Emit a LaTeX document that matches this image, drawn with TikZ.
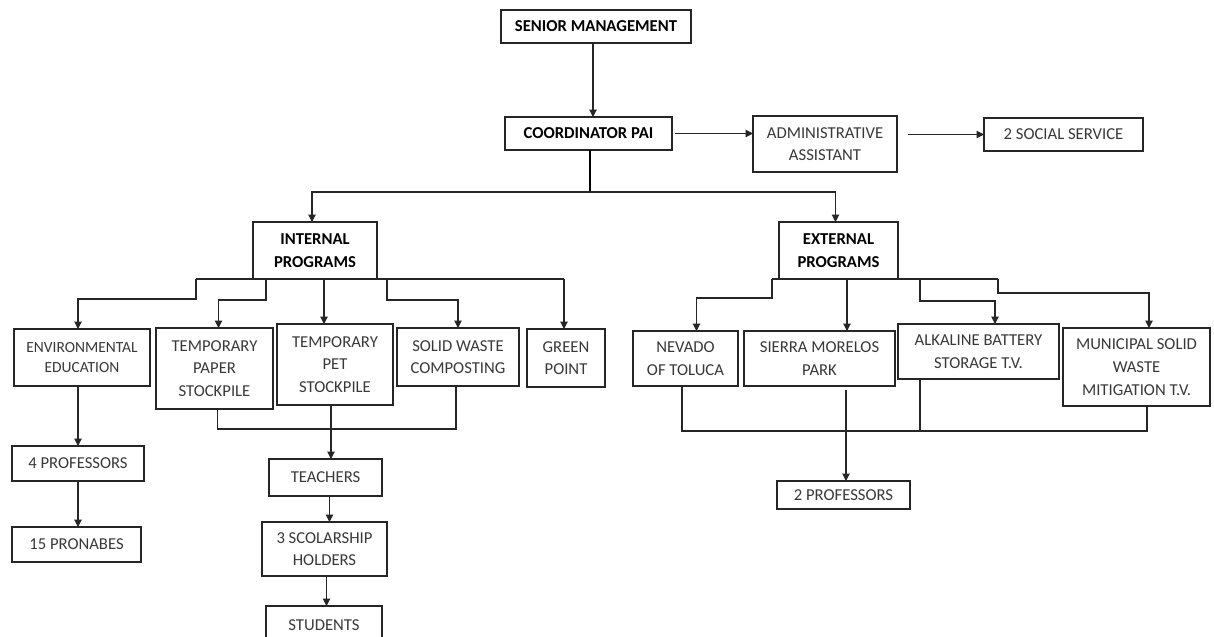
\documentclass[tikz,border=0pt]{standalone}
\usepackage{fontspec}
\setmainfont{Carlito}
\usetikzlibrary{calc,arrows.meta}
\tikzset{
 bxat/.style n args={4}{minimum width={(#3-#1)*0.75pt}, minimum height={(#4-#2)*0.75pt},
   at={({(#1+#3)/2},{(#2+#4)/2})}},
 bx/.style={draw=black!85, line width=0.8pt, inner sep=0pt, outer sep=0pt, align=center,
   font=\fontsize{12.5}{17}\selectfont, text=black!78},
 bb/.style={bx, font=\fontsize{12.5}{17.5}\selectfont\bfseries, text=black},
 ln/.style={draw=black!85, line width=0.8pt},
 thk/.style={draw=black, line width=1.6pt},
 arr/.style={ln, -{Triangle[length=5.5pt,width=5.5pt]}},
}
\begin{document}
\begin{tikzpicture}[x=0.75pt,y=-0.75pt]
\useasboundingbox (0,0) rectangle (1214,636);
\clip (0,0) rectangle (1214,636);
% boxes
\node[bb, bxat={501}{10}{691}{43}] (sm) {SENIOR MANAGEMENT};
\node[bb, bxat={505}{117}{672}{150}] (cpai) {COORDINATOR PAI};
\node[bx, bxat={753}{116}{897}{172}] (adm) {ADMINISTRATIVE\\ASSISTANT};
\node[bx, bxat={984}{118}{1143}{151}] (soc) {2 SOCIAL SERVICE};
\node[bb, bxat={253}{222}{377}{279}] (ip) {INTERNAL\\PROGRAMS};
\node[bb, bxat={779}{222}{898}{279}] (ep) {EXTERNAL\\PROGRAMS};
\node[bx, bxat={14}{329}{150}{386}, font=\fontsize{11.6}{15}\selectfont] (env) {ENVIRONMENTAL\\EDUCATION};
\node[bx, bxat={156}{328}{273}{409}] (tpp) {TEMPORARY\\PAPER\\STOCKPILE};
\node[bx, bxat={277}{324}{393}{405}] (tpet) {TEMPORARY\\PET\\STOCKPILE};
\node[bx, bxat={397}{328}{519}{386}] (swc) {SOLID WASTE\\COMPOSTING};
\node[bx, bxat={527}{329}{605}{387}] (gp) {GREEN\\POINT};
\node[bx, bxat={633}{331}{738}{386}] (nev) {NEVADO\\OF TOLUCA};
\node[bx, bxat={744}{331}{895}{386}] (sie) {SIERRA MORELOS\\PARK};
\node[bx, bxat={898}{324}{1059}{379}] (alk) {ALKALINE BATTERY\\STORAGE T.V.};
\node[bx, bxat={1063}{328}{1210}{406}] (mun) {MUNICIPAL SOLID\\WASTE\\MITIGATION T.V.};
\node[bx, bxat={12}{446}{144}{481}] (p4) {4 PROFESSORS};
\node[bx, bxat={12}{527}{141}{562}] (p15) {15 PRONABES};
\node[bx, bxat={269}{459}{382}{496}] (tea) {TEACHERS};
\node[bx, bxat={262}{522}{387}{576}] (sch) {3 SCOLARSHIP\\HOLDERS};
\node[bx, bxat={266}{606}{382}{644}] (stu) {STUDENTS};
\node[bx, bxat={777}{481}{910}{509}] (p2) {2 PROFESSORS};
% top connectors
\draw[arr] (sm.south west) ++(92,0) coordinate (t1) -- (t1 |- cpai.north);
\draw[arr] (cpai.east) ++(3,0) coordinate (t2) -- (t2 -| adm.west);
\draw[arr] (adm.east |- soc.west) ++(11,0) coordinate (t3) -- (soc.west);
\draw[thk] (cpai.south) ++(1.5,0) coordinate (t4) -- ++(0,42) coordinate (hub);
\draw[arr] (hub) -| ($(ip.north)+(-3,0)$);
\draw[arr] (hub) -| ($(ep.north)+(-3,0)$);
% internal programs
\draw[ln] (ip.south west) ++(-57,0) coordinate (iL) -- ($(ip.south -| gp.north)+(-2,0)$) coordinate (iR);
\draw[arr] (iR) -- (iR |- gp.north);
\draw[arr] (iL) -- ++(0,20) -| ($(env.north)+(-4,0)$);
\draw[arr] (ip.south west) ++(13,0) -- ++(0,21) -| ($(tpp.north)+(4,0)$);
\draw[arr] (ip.south west) ++(71,0) coordinate (t5) -- (t5 |- tpet.north);
\draw[arr] (ip.south east) ++(10,0) -- ++(0,21) -| (swc.north);
\draw[ln] ($(tpp.south)+(3,0)$) -- ++(0,20) -| ($(swc.south)+(-2,0)$);
\draw[arr] (tpet.south) ++(-4,0) coordinate (t6) -- (t6 |- tea.north);
\draw[arr] (p4.north |- env.south) -- (p4.north);
\draw[arr] (p4.south) -- (p4.south |- p15.north);
\draw[arr] (tea.south) ++(4,0) coordinate (t7) -- (t7 |- sch.north);
\draw[arr] (sch.south) ++(2,0) coordinate (t8) -- (t8 |- stu.north);
% external programs
\draw[ln] (ep.south west) ++(-7,0) coordinate (eL) -- ++(226,0) coordinate (eR);
\draw[arr] (eL) -- ++(0,19) -| ($(nev.north)+(11,0)$);
\draw[arr] (ep.south west) ++(68,0) coordinate (t9) -- (t9 |- sie.north);
\draw[arr] (ep.south east) ++(22,0) -- ++(0,22) -| ($(alk.north)+(16.5,0)$);
\draw[arr] (eR) -- ++(0,14) -| ($(mun.north)+(12.5,0)$);
\draw[ln] ($(nev.south)+(-3.5,0)$) -- ++(0,45) -| ($(mun.south)+(10.5,0)$);
\draw[ln] ($(alk.south)+(-58.5,0)$) -- ++(0,52);
\draw[arr] (sie.south) ++(26.5,4) coordinate (t10) -- (t10 |- p2.north);
\end{tikzpicture}
\end{document}
